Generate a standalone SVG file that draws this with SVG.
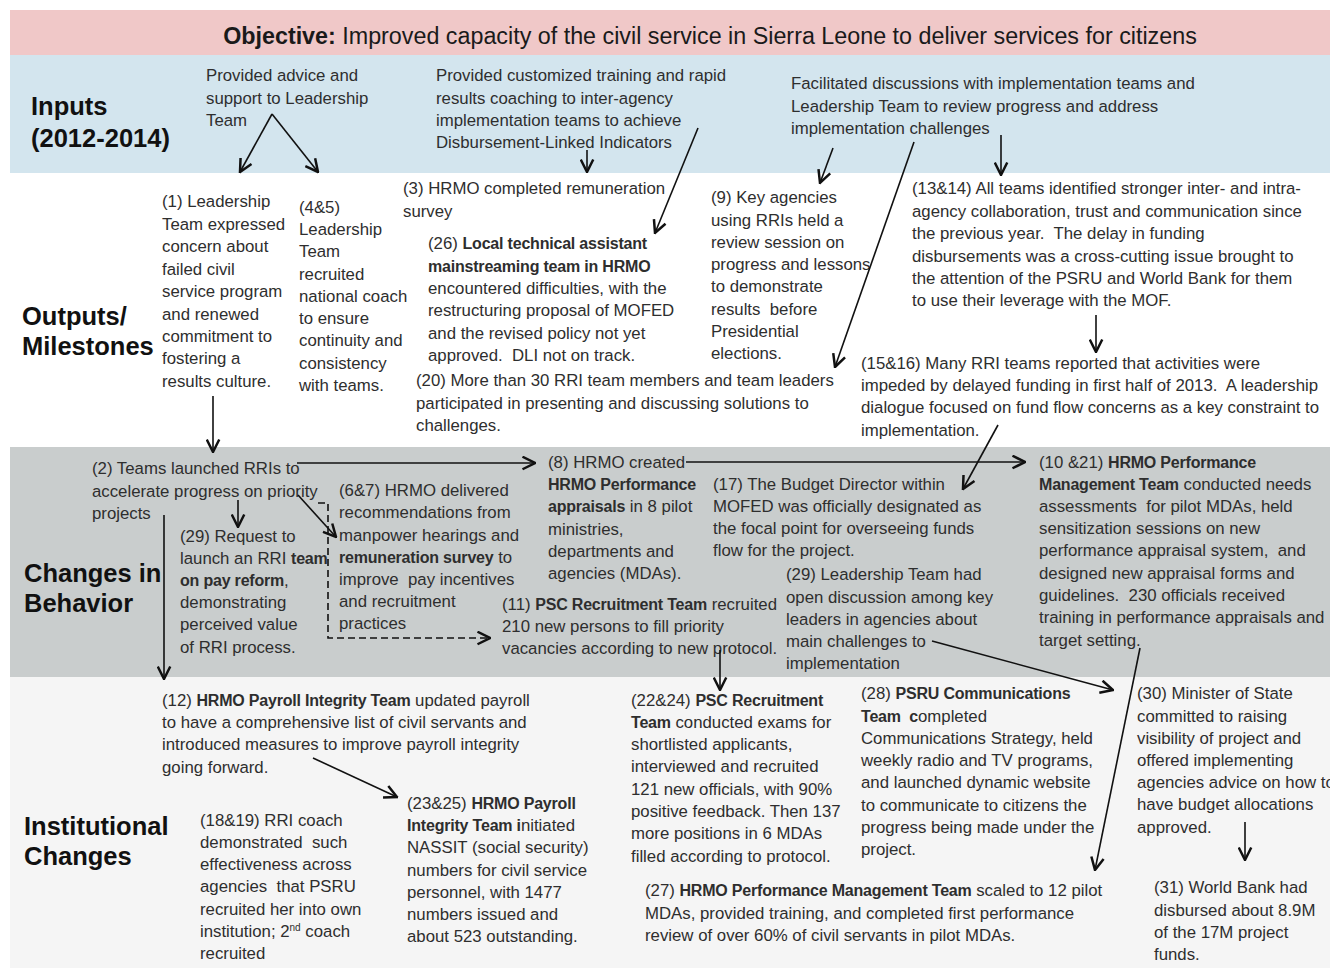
<svg xmlns="http://www.w3.org/2000/svg" width="1330" height="971" viewBox="0 0 1330 971">
<style>
.t{font-family:"Liberation Sans",Arial,sans-serif;font-size:16.8px;fill:#2e2e2e;white-space:pre}
.b{font-weight:bold;font-size:16px;letter-spacing:-0.2px}
.h{font-family:"Liberation Sans",Arial,sans-serif;font-size:25.5px;font-weight:bold;fill:#111}
.obj{font-family:"Liberation Sans",Arial,sans-serif;font-size:23.3px;fill:#1a1a1a;white-space:pre}
.ob{font-weight:bold}
.c{stroke:#111;stroke-width:1.6;fill:none;marker-end:url(#ah)}
.d{stroke-dasharray:7,4}
</style>
<defs>
<marker id="ah" viewBox="0 0 12 12" refX="11" refY="6" markerWidth="15" markerHeight="15" markerUnits="userSpaceOnUse" orient="auto">
<path d="M1,1 L11,6 L1,11" fill="none" stroke="#111" stroke-width="2"/>
</marker>
</defs>
<rect x="0" y="0" width="1330" height="971" fill="#ffffff"/>
<g id="bands">
<rect x="10" y="10" width="1320" height="45" fill="#f0c8c8"/>
<rect x="10" y="55" width="1320" height="118" fill="#d3e5ee"/>
<rect x="10" y="173" width="1320" height="274" fill="#ffffff"/>
<rect x="10" y="447" width="1320" height="230" fill="#c9cdcd"/>
<rect x="10" y="677" width="1320" height="291" fill="#f5f5f5"/>
</g>
<g id="objective"><text class="obj" x="710" y="44" text-anchor="middle"><tspan class="ob">Objective:</tspan> Improved capacity of the civil service in Sierra Leone to deliver services for citizens</text></g>
<g id="row-labels">
<text class="h" x="31" y="115">Inputs</text>
<text class="h" x="31" y="147">(2012-2014)</text>
<text class="h" x="22" y="325">Outputs/</text>
<text class="h" x="22" y="355">Milestones</text>
<text class="h" x="24" y="582">Changes in</text>
<text class="h" x="24" y="612">Behavior</text>
<text class="h" x="24" y="835">Institutional</text>
<text class="h" x="24" y="865">Changes</text>
</g>
<g id="input-advice"><text class="t"><tspan x="206" y="81">Provided advice and</tspan><tspan x="206" y="104">support to Leadership</tspan><tspan x="206" y="126">Team</tspan></text></g>
<g id="input-training"><text class="t"><tspan x="436" y="81">Provided customized training and rapid</tspan><tspan x="436" y="104">results coaching to inter-agency</tspan><tspan x="436" y="126">implementation teams to achieve</tspan><tspan x="436" y="148">Disbursement-Linked Indicators</tspan></text></g>
<g id="input-discussions"><text class="t"><tspan x="791" y="89">Facilitated discussions with implementation teams and</tspan><tspan x="791" y="112">Leadership Team to review progress and address</tspan><tspan x="791" y="134">implementation challenges</tspan></text></g>
<g id="out-1"><text class="t"><tspan x="162" y="207">(1) Leadership</tspan><tspan x="162" y="230">Team expressed</tspan><tspan x="162" y="252">concern about</tspan><tspan x="162" y="275">failed civil</tspan><tspan x="162" y="297">service program</tspan><tspan x="162" y="320">and renewed</tspan><tspan x="162" y="342">commitment to</tspan><tspan x="162" y="364">fostering a</tspan><tspan x="162" y="387">results culture.</tspan></text></g>
<g id="out-4-5"><text class="t"><tspan x="299" y="213">(4&amp;5)</tspan><tspan x="299" y="235">Leadership</tspan><tspan x="299" y="257">Team</tspan><tspan x="299" y="280">recruited</tspan><tspan x="299" y="302">national coach</tspan><tspan x="299" y="324">to ensure</tspan><tspan x="299" y="346">continuity and</tspan><tspan x="299" y="369">consistency</tspan><tspan x="299" y="391">with teams.</tspan></text></g>
<g id="out-3"><text class="t"><tspan x="403" y="194">(3) HRMO completed remuneration</tspan><tspan x="403" y="217">survey</tspan></text></g>
<g id="out-26"><text class="t"><tspan x="428" y="249">(26) <tspan class="b">Local technical assistant</tspan></tspan><tspan x="428" y="272" class="b">mainstreaming team in HRMO</tspan><tspan x="428" y="294">encountered difficulties, with the</tspan><tspan x="428" y="316">restructuring proposal of MOFED</tspan><tspan x="428" y="339">and the revised policy not yet</tspan><tspan x="428" y="361">approved.  DLI not on track.</tspan></text></g>
<g id="out-20"><text class="t"><tspan x="416" y="386">(20) More than 30 RRI team members and team leaders</tspan><tspan x="416" y="409">participated in presenting and discussing solutions to</tspan><tspan x="416" y="431">challenges.</tspan></text></g>
<g id="out-9"><text class="t"><tspan x="711" y="203">(9) Key agencies</tspan><tspan x="711" y="226">using RRIs held a</tspan><tspan x="711" y="248">review session on</tspan><tspan x="711" y="270">progress and lessons</tspan><tspan x="711" y="292">to demonstrate</tspan><tspan x="711" y="315">results  before</tspan><tspan x="711" y="337">Presidential</tspan><tspan x="711" y="359">elections.</tspan></text></g>
<g id="out-13-14"><text class="t"><tspan x="912" y="194">(13&amp;14) All teams identified stronger inter- and intra-</tspan><tspan x="912" y="217">agency collaboration, trust and communication since</tspan><tspan x="912" y="239">the previous year.  The delay in funding</tspan><tspan x="912" y="262">disbursements was a cross-cutting issue brought to</tspan><tspan x="912" y="284">the attention of the PSRU and World Bank for them</tspan><tspan x="912" y="306">to use their leverage with the MOF.</tspan></text></g>
<g id="out-15-16"><text class="t"><tspan x="861" y="369">(15&amp;16) Many RRI teams reported that activities were</tspan><tspan x="861" y="391">impeded by delayed funding in first half of 2013.  A leadership</tspan><tspan x="861" y="413">dialogue focused on fund flow concerns as a key constraint to</tspan><tspan x="861" y="436">implementation.</tspan></text></g>
<g id="beh-2"><text class="t"><tspan x="92" y="474">(2) Teams launched RRIs to</tspan><tspan x="92" y="497">accelerate progress on priority</tspan><tspan x="92" y="519">projects</tspan></text></g>
<g id="beh-29a"><text class="t"><tspan x="180" y="542">(29) Request to</tspan><tspan x="180" y="564">launch an RRI <tspan class="b">team</tspan></tspan><tspan x="180" y="586"><tspan class="b">on pay reform</tspan>,</tspan><tspan x="180" y="608">demonstrating</tspan><tspan x="180" y="630">perceived value</tspan><tspan x="180" y="653">of RRI process.</tspan></text></g>
<g id="beh-6-7"><text class="t"><tspan x="339" y="496">(6&amp;7) HRMO delivered</tspan><tspan x="339" y="518">recommendations from</tspan><tspan x="339" y="541">manpower hearings and</tspan><tspan x="339" y="563"><tspan class="b">remuneration survey</tspan> to</tspan><tspan x="339" y="585">improve  pay incentives</tspan><tspan x="339" y="607">and recruitment</tspan><tspan x="339" y="629">practices</tspan></text></g>
<g id="beh-8"><text class="t"><tspan x="548" y="468">(8) HRMO created</tspan><tspan x="548" y="490" class="b">HRMO Performance</tspan><tspan x="548" y="512"><tspan class="b">appraisals</tspan> in 8 pilot</tspan><tspan x="548" y="535">ministries,</tspan><tspan x="548" y="557">departments and</tspan><tspan x="548" y="579">agencies (MDAs).</tspan></text></g>
<g id="beh-17"><text class="t"><tspan x="713" y="490">(17) The Budget Director within</tspan><tspan x="713" y="512">MOFED was officially designated as</tspan><tspan x="713" y="534">the focal point for overseeing funds</tspan><tspan x="713" y="556">flow for the project.</tspan></text></g>
<g id="beh-29b"><text class="t"><tspan x="786" y="580">(29) Leadership Team had</tspan><tspan x="786" y="603">open discussion among key</tspan><tspan x="786" y="625">leaders in agencies about</tspan><tspan x="786" y="647">main challenges to</tspan><tspan x="786" y="669">implementation</tspan></text></g>
<g id="beh-11"><text class="t"><tspan x="502" y="610">(11) <tspan class="b">PSC Recruitment Team</tspan> recruited</tspan><tspan x="502" y="632">210 new persons to fill priority</tspan><tspan x="502" y="654">vacancies according to new protocol.</tspan></text></g>
<g id="beh-10-21"><text class="t"><tspan x="1039" y="468">(10 &amp;21) <tspan class="b">HRMO Performance</tspan></tspan><tspan x="1039" y="490"><tspan class="b">Management Team</tspan> conducted needs</tspan><tspan x="1039" y="512">assessments  for pilot MDAs, held</tspan><tspan x="1039" y="534">sensitization sessions on new</tspan><tspan x="1039" y="556">performance appraisal system,  and</tspan><tspan x="1039" y="579">designed new appraisal forms and</tspan><tspan x="1039" y="601">guidelines.  230 officials received</tspan><tspan x="1039" y="623">training in performance appraisals and</tspan><tspan x="1039" y="646">target setting.</tspan></text></g>
<g id="inst-12"><text class="t"><tspan x="162" y="706">(12) <tspan class="b">HRMO Payroll Integrity Team</tspan> updated payroll</tspan><tspan x="162" y="728">to have a comprehensive list of civil servants and</tspan><tspan x="162" y="750">introduced measures to improve payroll integrity</tspan><tspan x="162" y="773">going forward.</tspan></text></g>
<g id="inst-18-19"><text class="t"><tspan x="200" y="826">(18&amp;19) RRI coach</tspan><tspan x="200" y="848">demonstrated  such</tspan><tspan x="200" y="870">effectiveness across</tspan><tspan x="200" y="892">agencies  that PSRU</tspan><tspan x="200" y="915">recruited her into own</tspan><tspan x="200" y="937">institution; 2<tspan font-size="10" dy="-6">nd</tspan><tspan dy="6"> coach</tspan></tspan><tspan x="200" y="959">recruited</tspan></text></g>
<g id="inst-23-25"><text class="t"><tspan x="407" y="809">(23&amp;25) <tspan class="b">HRMO Payroll</tspan></tspan><tspan x="407" y="831"><tspan class="b">Integrity Team i</tspan>nitiated</tspan><tspan x="407" y="853">NASSIT (social security)</tspan><tspan x="407" y="876">numbers for civil service</tspan><tspan x="407" y="898">personnel, with 1477</tspan><tspan x="407" y="920">numbers issued and</tspan><tspan x="407" y="942">about 523 outstanding.</tspan></text></g>
<g id="inst-22-24"><text class="t"><tspan x="631" y="706">(22&amp;24) <tspan class="b">PSC Recruitment</tspan></tspan><tspan x="631" y="728"><tspan class="b">Team</tspan> conducted exams for</tspan><tspan x="631" y="750">shortlisted applicants,</tspan><tspan x="631" y="772">interviewed and recruited</tspan><tspan x="631" y="795">121 new officials, with 90%</tspan><tspan x="631" y="817">positive feedback. Then 137</tspan><tspan x="631" y="839">more positions in 6 MDAs</tspan><tspan x="631" y="862">filled according to protocol.</tspan></text></g>
<g id="inst-28"><text class="t"><tspan x="861" y="699">(28) <tspan class="b">PSRU Communications</tspan></tspan><tspan x="861" y="722"><tspan class="b">Team  c</tspan>ompleted</tspan><tspan x="861" y="744">Communications Strategy, held</tspan><tspan x="861" y="766">weekly radio and TV programs,</tspan><tspan x="861" y="788">and launched dynamic website</tspan><tspan x="861" y="811">to communicate to citizens the</tspan><tspan x="861" y="833">progress being made under the</tspan><tspan x="861" y="855">project.</tspan></text></g>
<g id="inst-27"><text class="t"><tspan x="645" y="896">(27) <tspan class="b">HRMO Performance Management Team</tspan> scaled to 12 pilot</tspan><tspan x="645" y="919">MDAs, provided training, and completed first performance</tspan><tspan x="645" y="941">review of over 60% of civil servants in pilot MDAs.</tspan></text></g>
<g id="inst-30"><text class="t"><tspan x="1137" y="699">(30) Minister of State</tspan><tspan x="1137" y="722">committed to raising</tspan><tspan x="1137" y="744">visibility of project and</tspan><tspan x="1137" y="766">offered implementing</tspan><tspan x="1137" y="788">agencies advice on how to</tspan><tspan x="1137" y="810">have budget allocations</tspan><tspan x="1137" y="833">approved.</tspan></text></g>
<g id="inst-31"><text class="t"><tspan x="1154" y="893">(31) World Bank had</tspan><tspan x="1154" y="916">disbursed about 8.9M</tspan><tspan x="1154" y="938">of the 17M project</tspan><tspan x="1154" y="960">funds.</tspan></text></g>
<g id="connectors">
<path class="c" d="M272,114 L240,172"/>
<path class="c" d="M272,114 L318,172"/>
<path class="c" d="M587,150 L587,172"/>
<path class="c" d="M698,128 L655,233"/>
<path class="c" d="M833,148 L820,183"/>
<path class="c" d="M914,142 L835,367"/>
<path class="c" d="M1001,135 L1001,175"/>
<path class="c" d="M1096,315 L1096,352"/>
<path class="c" d="M998,425 L963,489"/>
<path class="c" d="M213,396 L213,452"/>
<path class="c" d="M297,463 L535,463"/>
<path class="c" d="M686,462 L1025,462"/>
<path class="c" d="M238,500 L238,527"/>
<path class="c" d="M298,495 L336,537"/>
<path class="c d" d="M318,503 H328 V638 H490"/>
<path class="c" d="M164,515 L164,679"/>
<path class="c" d="M720,650 L720,690"/>
<path class="c" d="M932,641 L1113,690"/>
<path class="c" d="M1140,648 L1095,870"/>
<path class="c" d="M313,758 L397,797"/>
<path class="c" d="M1245,822 L1245,860"/>
</g>
</svg>
